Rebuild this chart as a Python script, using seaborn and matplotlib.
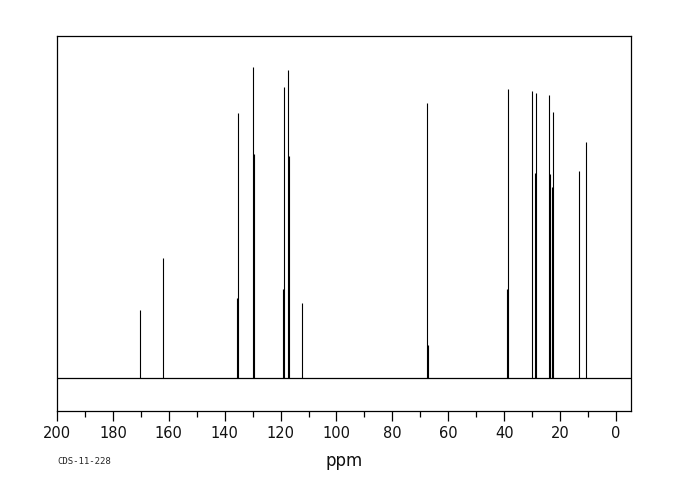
import numpy as np
import pandas as pd
import matplotlib
matplotlib.use("Agg")
import matplotlib.pyplot as plt
import seaborn as sns

# peak positions (ppm) and heights (arbitrary units)
peak_ppm = [170.3, 162.1, 135.6, 135.3, 129.8, 129.5, 119.0, 118.9, 117.4, 117.1,
            112.4, 67.5, 67.3, 38.9, 38.5, 30.2, 28.9, 28.6, 23.9, 23.6,
            22.8, 22.4, 13.3, 10.6]
peak_height = [68, 120, 80, 265, 311, 224, 89, 291, 308, 222,
               75, 275, 33, 89, 289, 287, 205, 285, 283, 204,
               191, 266, 207, 236]

major_ticks = list(range(200, -1, -20))
minor_ticks = list(range(190, 0, -20))

sns.set_theme(style="white")
plt.rcParams["font.family"] = ["DejaVu Sans"]

df = pd.DataFrame({"ppm": peak_ppm, "height": peak_height})

fig = plt.figure(figsize=(6.8, 5.0), dpi=100)
ax = fig.add_axes([57 / 680, 89 / 500, 574 / 680, 375 / 500])

ax.axhline(0, color="black", lw=0.9)
ax.vlines(df["ppm"], 0, df["height"], color="black", lw=0.8)

ax.set_xlim(200, -5.4)
ax.set_ylim(-33, 342)
ax.set_yticks([])
ax.set_xticks(major_ticks)
ax.set_xticks(minor_ticks, minor=True)
ax.tick_params(axis="x", which="major", direction="out", length=7, width=0.9,
               color="black", labelsize=10.5, labelcolor="#111111", pad=4, bottom=True)
ax.tick_params(axis="x", which="minor", direction="out", length=4.5, width=0.9,
               color="black", bottom=True)
for s in ax.spines.values():
    s.set_color("black")
    s.set_linewidth(0.9)

ax.set_xlabel("ppm", fontsize=12, color="#111111", labelpad=8)
fig.text(57 / 680, 1 - 462 / 500, "CDS-11-228", fontsize=6.5,
         family="DejaVu Sans Mono", va="center", ha="left")

fig.savefig("out.png", dpi=100, facecolor="white")
